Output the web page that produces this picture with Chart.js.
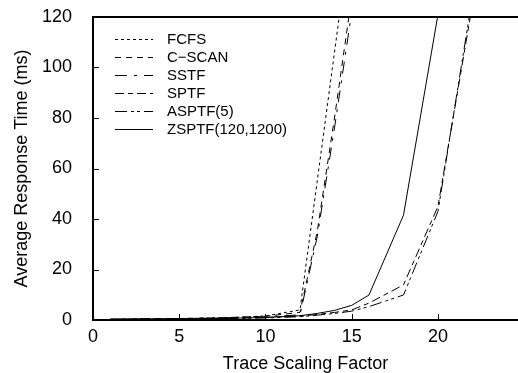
<!DOCTYPE html>
<html>
<head>
<meta charset="utf-8">
<script src="https://cdn.jsdelivr.net/npm/chart.js@4.4.1/dist/chart.umd.min.js"></script>
<style>
    html, body { margin: 0; padding: 0; background: #fff; }
    #wrap { width: 518px; height: 373px; }
</style>
</head>
<body>
<div id="wrap"><canvas id="chart" width="518" height="373"></canvas></div>
<script>
const traceFactor = [1, 2, 4, 6, 8, 10, 12, 13, 14, 15, 16, 18, 20, 22];

const fcfs  = [0.3, 0.4, 0.5, 0.7, 1.0, 1.6, 4.0, 55, 106, 157, null, null, null, null];
const cscan = [0.3, 0.4, 0.5, 0.7, 1.0, 1.5, 3.0, 35, 80, 128, null, null, null, null];
const sstf  = [0.3, 0.4, 0.5, 0.6, 0.9, 1.3, 2.0, 33, 76, 122, null, null, null, null];
const sptf  = [0.2, 0.3, 0.4, 0.5, 0.7, 1.0, 1.5, 2.2, 3.0, 4.0, 6.7, 13.9, 45, 125];
const asptf = [0.2, 0.3, 0.4, 0.5, 0.6, 0.8, 1.3, 1.9, 2.6, 3.5, 5.3, 9.9, 43, 128];
const zsptf = [0.2, 0.3, 0.4, 0.5, 0.7, 1.0, 1.7, 2.6, 3.8, 5.8, 9.9, 41.5, 121, null];

const seriesNames = ["FCFS", "C\u2212SCAN", "SSTF", "SPTF", "ASPTF(5)", "ZSPTF(120,1200)"];
const xTicks = [0, 5, 10, 15, 20];
const yTicks = [0, 20, 40, 60, 80, 100, 120];

const dashes = [[3, 3], [6, 5], [12, 7, 3, 7], [9, 4, 5, 4], [12, 4, 3, 3, 3, 4], []];
const allSeries = [fcfs, cscan, sstf, sptf, asptf, zsptf];

const datasets = allSeries.map((vals, i) => ({
    label: seriesNames[i],
    data: traceFactor.map((x, j) => ({ x: x, y: vals[j] })).filter(p => p.y !== null),
    borderColor: '#000',
    borderWidth: 1,
    borderDash: dashes[i],
    pointRadius: 0,
    fill: false,
    tension: 0
}));

const FONT = "'Liberation Sans', Arial, sans-serif";

// frame, inward ticks and the in-plot legend
const framePlugin = {
    id: 'frame',
    afterDatasetsDraw(chart) {
        const ctx = chart.ctx;
        const area = chart.chartArea;
        const xs = chart.scales.x, ys = chart.scales.y;
        ctx.save();
        ctx.strokeStyle = '#000';
        ctx.setLineDash([]);
        ctx.lineWidth = 1;
        ctx.beginPath();
        xTicks.forEach(v => {
            const px = Math.round(xs.getPixelForValue(v)) + 0.5;
            ctx.moveTo(px, area.bottom);
            ctx.lineTo(px, area.bottom - 6);
        });
        yTicks.forEach(v => {
            const py = Math.round(ys.getPixelForValue(v)) + 0.5;
            ctx.moveTo(area.left, py);
            ctx.lineTo(area.left + 6, py);
        });
        ctx.stroke();

        ctx.lineWidth = 2;
        ctx.beginPath();
        ctx.moveTo(area.right, area.top);
        ctx.lineTo(area.left, area.top);
        ctx.lineTo(area.left, area.bottom);
        ctx.lineTo(area.right, area.bottom);
        ctx.stroke();

        ctx.lineWidth = 1;
        ctx.font = '15px ' + FONT;
        ctx.fillStyle = '#000';
        ctx.textBaseline = 'middle';
        chart.data.datasets.forEach((ds, i) => {
            const y = Math.round(39 + i * 18) + 0.5;
            ctx.setLineDash(ds.borderDash);
            ctx.beginPath();
            ctx.moveTo(115, y);
            ctx.lineTo(153, y);
            ctx.stroke();
            ctx.fillText(ds.label, 167, y);
        });
        ctx.restore();
    }
};

new Chart(document.getElementById('chart'), {
    type: 'line',
    data: { datasets: datasets },
    options: {
        responsive: false,
        animation: false,
        layout: { padding: { top: 17, right: 0, left: 0, bottom: 0 } },
        plugins: {
            legend: { display: false },
            tooltip: { enabled: false }
        },
        scales: {
            x: {
                type: 'linear',
                min: 0,
                max: 24.64,
                afterBuildTicks: scale => { scale.ticks = xTicks.map(v => ({ value: v })); },
                afterFit: scale => {
                    scale.height = 53;
                    scale.paddingLeft = 0;
                    scale.paddingRight = 0;
                },
                grid: { display: false, drawTicks: false },
                border: { display: false },
                ticks: {
                    color: '#000',
                    padding: 6,
                    maxRotation: 0,
                    font: { family: FONT, size: 18 }
                },
                title: {
                    display: true,
                    text: 'Trace Scaling Factor',
                    color: '#000',
                    padding: 0,
                    font: { family: FONT, size: 18, lineHeight: 1.0 }
                }
            },
            y: {
                type: 'linear',
                min: 0,
                max: 120,
                afterBuildTicks: scale => { scale.ticks = yTicks.map(v => ({ value: v })); },
                afterFit: scale => {
                    scale.width = 93;
                    scale.paddingTop = 0;
                    scale.paddingBottom = 0;
                },
                grid: { display: false, drawTicks: false },
                border: { display: false },
                ticks: {
                    color: '#000',
                    padding: 21,
                    font: { family: FONT, size: 18 }
                },
                title: {
                    display: true,
                    text: 'Average Response Time (ms)',
                    color: '#000',
                    padding: { top: 11, bottom: 0 },
                    font: { family: FONT, size: 18 }
                }
            }
        }
    },
    plugins: [framePlugin]
});
</script>
</body>
</html>
